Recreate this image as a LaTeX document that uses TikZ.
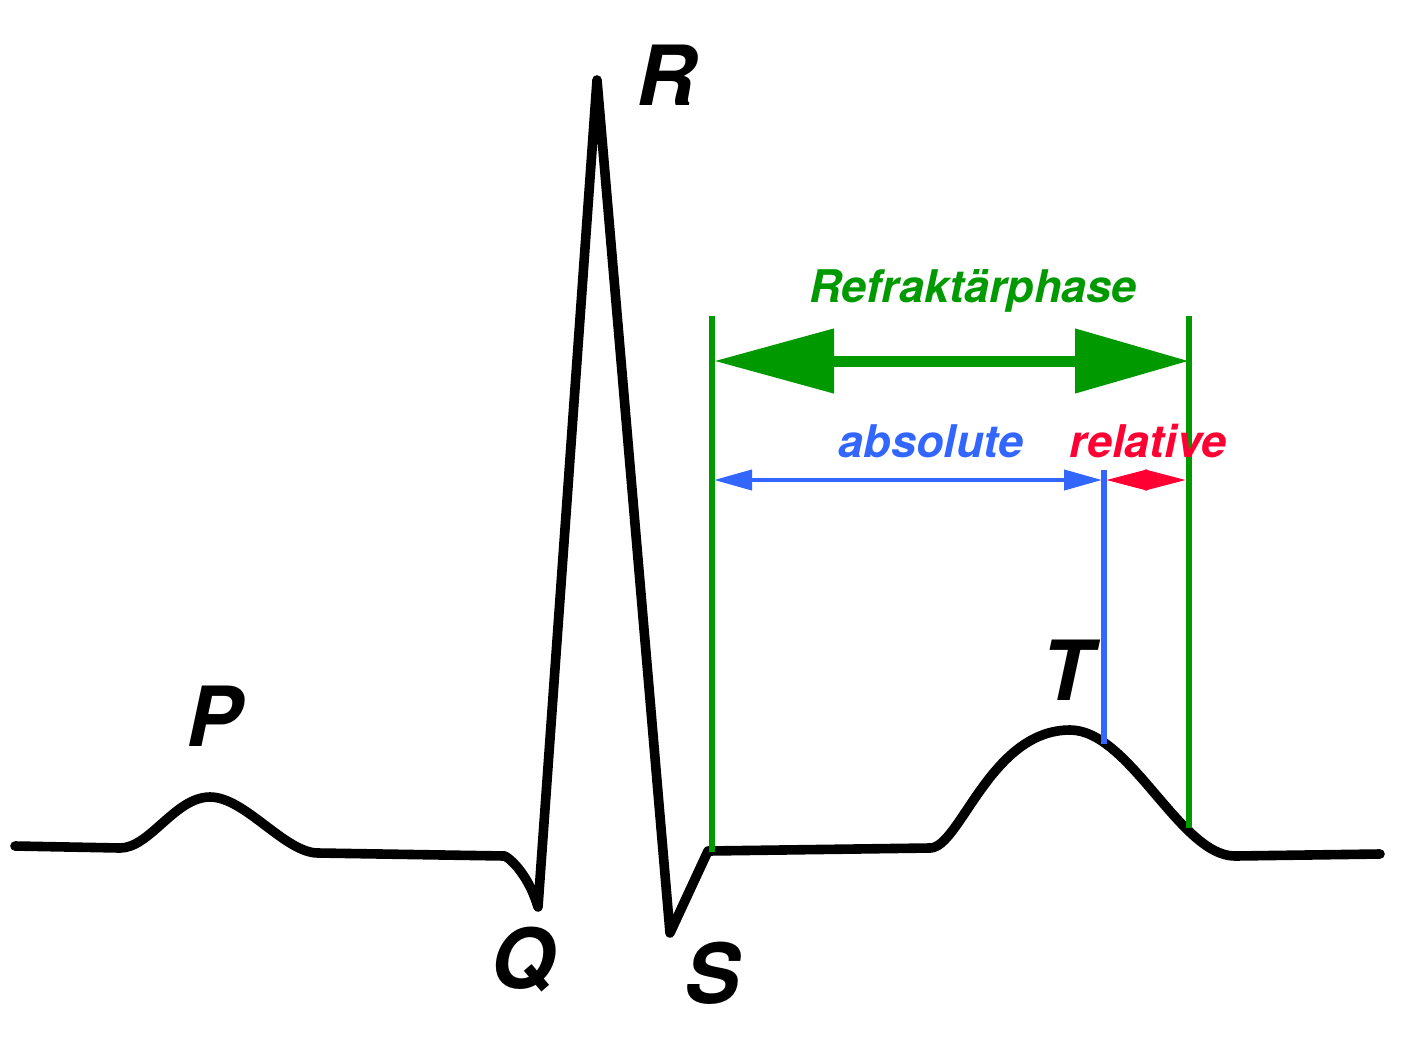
\documentclass[tikz,border=0pt]{standalone}
\usepackage{fontspec}
\setmainfont{TeX Gyre Heros}
\usetikzlibrary{arrows.meta}
\definecolor{ecggreen}{HTML}{009900}
\definecolor{ecgblue}{HTML}{3366FF}
\definecolor{ecgred}{HTML}{FF0033}
\tikzset{
  wave/.style={line width=4.8pt, line cap=round, line join=round, black},
  bigletter/.style={inner sep=0pt, anchor=base, font=\fontsize{41.5}{42}\selectfont\bfseries\itshape},
  phaselabel/.style={inner sep=0pt, anchor=base, font=\fontsize{22.5}{24}\selectfont\bfseries\itshape},
  greenline/.style={ecggreen, line width=2.8pt},
  blueline/.style={ecgblue, line width=2.6pt},
  bigarrow/.style={ecggreen, line width=5.5pt, {Triangle[length=60pt,width=31pt]}-{Triangle[length=57pt,width=31pt]}},
  bluearrow/.style={ecgblue, line width=2pt, {Triangle[length=19pt,width=10pt]}-{Triangle[length=19pt,width=10pt]}},
  redarrow/.style={ecgred, line width=2pt, {Triangle[length=20.5pt,width=10pt]}-{Triangle[length=20.5pt,width=10pt]}},
}
\begin{document}
\begin{tikzpicture}[x=0.5pt,y=-0.5pt]
\useasboundingbox (0,0) rectangle (1417,1049);
% ECG curve
\draw[wave] (15,846) -- (120,848)
  .. controls (150,848) and (175,797) .. (210,797)
  .. controls (245,797) and (285,853) .. (318,853)
  -- (505,856)
  .. controls (515,862) and (530,880) .. (538,907)
  -- (597,80) -- (670,933) -- (708,851) -- (930,848)
  .. controls (960,848) and (990,730) .. (1070,730)
  .. controls (1130,730) and (1180,856) .. (1235,856)
  -- (1380,854);
% coordinates
\coordinate (gLt) at (712,316);
\coordinate (gLb) at (712,852);
\coordinate (gRt) at (1189,316);
\coordinate (gRb) at (1189,828);
\coordinate (bt) at (1104,470);
\coordinate (bb) at (1104,744);
\coordinate (gA1) at (714,361);
\coordinate (gA2) at (1189,361);
\coordinate (bA1) at (714,480);
\coordinate (bA2) at (1102,480);
\coordinate (rA1) at (1106,480);
\coordinate (rA2) at (1186,480);
% vertical markers
\draw[greenline] (gLt) -- (gLb);
\draw[greenline] (gRt) -- (gRb);
\draw[blueline] (bt) -- (bb);
% arrows
\draw[bigarrow] (gA1) -- (gA2);
\draw[bluearrow] (bA1) -- (bA2);
\draw[redarrow] (rA1) -- (rA2);
% labels
\node[phaselabel, text=ecggreen] (refr) at (973,302) {Refraktärphase};
\node[phaselabel, text=ecgblue] (abs) at (931,457) {absolute};
\node[phaselabel, text=ecgred] (rel) at (1148,457) {relative};
\node[bigletter] (P) at (214,746) {P};
\node[bigletter] (Q) at (523,988) {Q};
\node[bigletter] (R) at (666,105) {R};
\node[bigletter] (S) at (712,1003) {S};
\node[bigletter] (T) at (1067,700) {T};
\end{tikzpicture}
\end{document}
